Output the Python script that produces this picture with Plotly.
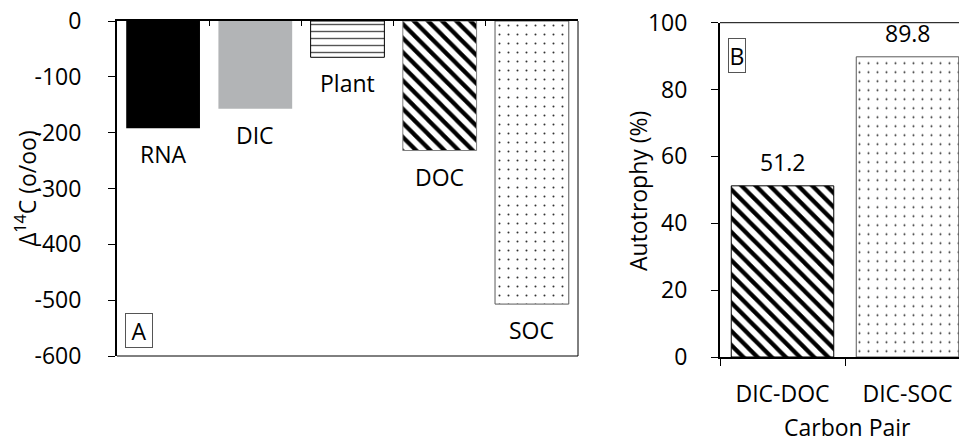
import plotly.graph_objects as go

# Panel A data
cats_a = ["RNA", "DIC", "Plant", "DOC", "SOC"]
vals_a = [-192, -157, -65, -232, -507]
ticks_a = [0, -100, -200, -300, -400, -500, -600]

# Panel B data
cats_b = ["DIC-DOC", "DIC-SOC"]
vals_b = [51.2, 89.8]
labels_b = ["51.2", "89.8"]
ticks_b = [0, 20, 40, 60, 80, 100]

FONT = "Open Sans"
FS = 23
W, H = 967, 443
OX, OY = 8, 8  # page body margin offset


def px(x):
    return (x - OX) / W


def py(y):
    return 1 - (y - OY) / H


# per-bar styles
style_a = [
    dict(color="black", line="black", lw=0, shape="", fg="black", size=8, sol=0.3),
    dict(color="#b2b4b6", line="#b2b4b6", lw=0, shape="", fg="#b2b4b6", size=8, sol=0.3),
    dict(color="white", line="black", lw=1, shape="-", fg="#555555", size=7, sol=0.2),
    dict(color="white", line="#7f7f7f", lw=1, shape="\\", fg="black", size=10, sol=0.42),
    dict(color="white", line="#595959", lw=1, shape=".", fg="#333333", size=9, sol=0.04),
]
style_b = [
    dict(color="white", line="black", lw=1, shape="\\", fg="black", size=10, sol=0.42),
    dict(color="white", line="#595959", lw=1, shape=".", fg="#333333", size=9, sol=0.04),
]


def make_marker(s):
    m = dict(color=s["color"], line=dict(color=s["line"], width=s["lw"]))
    if s["shape"]:
        m["pattern"] = dict(shape=s["shape"], fgcolor=s["fg"], bgcolor=s["color"],
                            size=s["size"], solidity=s["sol"], fillmode="replace")
    return m


fig = go.Figure()
for c, v, s in zip(cats_a, vals_a, style_a):
    fig.add_trace(go.Bar(x=[c], y=[v], xaxis="x", yaxis="y", width=0.8,
                         marker=make_marker(s), showlegend=False, hoverinfo="skip"))
for c, v, s in zip(cats_b, vals_b, style_b):
    fig.add_trace(go.Bar(x=[c], y=[v], xaxis="x2", yaxis="y2", width=0.82,
                         marker=make_marker(s), showlegend=False, hoverinfo="skip"))

tfont = dict(family=FONT, size=FS, color="black")
annotations = []
for c, v in zip(cats_a, vals_a):
    annotations.append(dict(x=c, y=v, xref="x", yref="y", text=c, showarrow=False,
                            yanchor="top", yshift=-8, font=tfont))
for c, v, t in zip(cats_b, vals_b, labels_b):
    annotations.append(dict(x=c, y=v, xref="x2", yref="y2", text=t, showarrow=False,
                            yanchor="bottom", yshift=6, font=tfont))
annotations.append(dict(x=0.018, y=0.024, xref="x domain", yref="y domain", text="A",
                        showarrow=False, xanchor="left", yanchor="bottom",
                        bordercolor="#555555", borderwidth=1, borderpad=1, width=24, height=31,
                        font=tfont))
annotations.append(dict(x=0.032, y=0.954, xref="x2 domain", yref="y2 domain", text="B",
                        showarrow=False, xanchor="left", yanchor="top",
                        bordercolor="#555555", borderwidth=1, borderpad=1, width=14, height=31,
                        font=tfont))
# axis titles
annotations.append(dict(x=px(26), y=py(188), xref="paper", yref="paper",
                        text="Δ<sup>14</sup>C (o/oo)", textangle=-90, showarrow=False,
                        xanchor="center", yanchor="middle", font=tfont))
annotations.append(dict(x=px(638), y=py(191), xref="paper", yref="paper",
                        text="Autotrophy (%)", textangle=-90, showarrow=False,
                        xanchor="center", yanchor="middle", font=tfont))
annotations.append(dict(x=px(847), y=py(427), xref="paper", yref="paper",
                        text="Carbon Pair", showarrow=False,
                        xanchor="center", yanchor="middle", font=tfont))

shapes = [
    dict(type="line", xref="x domain", yref="y domain", x0=0, x1=1, y0=0, y1=0,
         line=dict(color="black", width=1)),
    dict(type="line", xref="x domain", yref="y domain", x0=1, x1=1, y0=0, y1=1,
         line=dict(color="black", width=1)),
    dict(type="line", xref="x2 domain", yref="y2 domain", x0=0, x1=1, y0=1, y1=1,
         line=dict(color="black", width=1)),
]

# panel B x range: category width of 125 px, domain extends to figure edge
b_left = 720
b_span = (W - (b_left - OX)) / 125.0

fig.update_layout(
    width=W, height=H, autosize=False,
    margin=dict(l=0, r=0, t=0, b=0, autoexpand=False),
    paper_bgcolor="white", plot_bgcolor="white",
    font=tfont, barmode="overlay",
    annotations=annotations, shapes=shapes,
    xaxis=dict(
        domain=[px(117), px(578)], type="category", categoryorder="array", categoryarray=cats_a,
        range=[-0.5, 4.5], side="top", anchor="y", automargin=False,
        showline=True, linecolor="black", linewidth=2,
        ticks="inside", tickson="boundaries", ticklen=5, tickcolor="black", tickwidth=1,
        showticklabels=False, showgrid=False, zeroline=False,
    ),
    yaxis=dict(
        domain=[py(356), py(21)], range=[-600, 0], anchor="x", automargin=False,
        tickvals=ticks_a, ticktext=[str(t) for t in ticks_a], tickfont=tfont,
        ticklabeloverflow="allow",
        showline=True, linecolor="black", linewidth=2,
        ticks="outside", ticklen=7, tickcolor="black", tickwidth=1, ticklabelstandoff=22,
        showgrid=False, zeroline=False,
    ),
    xaxis2=dict(
        domain=[px(b_left), 1.0], type="category", categoryorder="array", categoryarray=cats_b,
        range=[-0.5, -0.5 + b_span], anchor="y2", automargin=False,
        showline=True, linecolor="black", linewidth=2,
        ticks="outside", tickson="boundaries", ticklen=7, tickcolor="black", tickwidth=1,
        tickfont=tfont, ticklabelstandoff=15, ticklabeloverflow="allow",
        showgrid=False, zeroline=False,
    ),
    yaxis2=dict(
        domain=[py(357), py(22.7)], range=[0, 100], anchor="x2", automargin=False,
        tickvals=ticks_b, tickfont=tfont, ticklabeloverflow="allow",
        showline=True, linecolor="black", linewidth=2,
        ticks="outside", ticklen=7, tickcolor="black", tickwidth=1, ticklabelstandoff=19,
        showgrid=False, zeroline=False,
    ),
)

fig.write_html("out.html")
